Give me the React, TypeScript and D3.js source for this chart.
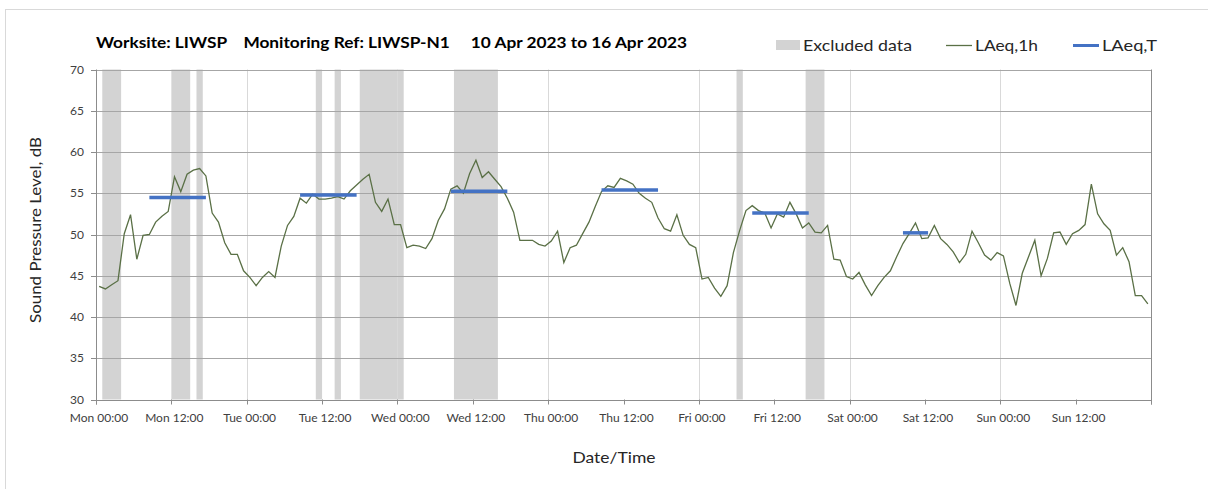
import React from "react";
import * as d3 from "d3";

// Hourly LAeq,1h values (dB), Mon 00:00 .. Sun 23:00
const laeq1h: number[] = [
  43.7, 43.4, 43.9, 44.4, 50.1, 52.4, 47.0, 49.9, 50.0, 51.5, 52.2, 52.8,
  57.0, 55.2, 57.3, 57.8, 58.0, 57.1, 52.6, 51.5, 49.0, 47.6, 47.6, 45.6,
  44.8, 43.8, 44.8, 45.5, 44.8, 48.6, 51.1, 52.2, 54.4, 53.8, 54.9, 54.3,
  54.3, 54.4, 54.6, 54.3, 55.3, 56.0, 56.7, 57.3, 53.9, 52.8, 54.3, 51.2,
  51.2, 48.4, 48.7, 48.6, 48.3, 49.5, 51.7, 53.1, 55.5, 55.9, 55.0, 57.4,
  59.0, 56.9, 57.6, 56.7, 55.8, 54.4, 52.7, 49.3, 49.3, 49.3, 48.8, 48.6,
  49.2, 50.4, 46.6, 48.4, 48.7, 50.1, 51.5, 53.4, 55.2, 55.9, 55.7, 56.8,
  56.5, 56.1, 55.0, 54.4, 53.9, 52.0, 50.7, 50.4, 52.4, 49.9, 48.8, 48.4,
  44.6, 44.8, 43.5, 42.5, 43.8, 47.8, 50.5, 52.9, 53.5, 52.9, 52.6, 50.8,
  52.5, 52.1, 53.9, 52.5, 50.8, 51.4, 50.3, 50.2, 51.1, 47.0, 46.9, 44.9,
  44.6, 45.4, 43.9, 42.6, 43.8, 44.8, 45.6, 47.3, 48.9, 50.1, 51.4, 49.5,
  49.6, 51.1, 49.5, 48.8, 47.9, 46.6, 47.6, 50.4, 49.0, 47.5, 46.9, 47.8,
  47.4, 44.1, 41.4, 45.3, 47.3, 49.3, 45.0, 47.1, 50.2, 50.3, 48.8, 50.1,
  50.5, 51.2, 56.1, 52.5, 51.3, 50.5, 47.5, 48.4, 46.7, 42.6, 42.6, 41.6,
];

// Excluded data periods [start hour, end hour] from Mon 00:00
const excludedStart: number[] = [1, 12, 16, 35, 38, 42, 57, 102, 113];
const excludedEnd: number[] = [4, 15, 17, 36, 39, 49, 64, 103, 116];

// LAeq,T periods: first hour index, last hour index, level
const periodFirst: number[] = [8, 32, 56, 80, 104, 128];
const periodLast: number[] = [17, 41, 65, 89, 113, 132];
const periodLevel: number[] = [54.5, 54.8, 55.25, 55.4, 52.6, 50.2];

const xTickLabels: string[] = [
  "Mon 00:00", "Mon 12:00", "Tue 00:00", "Tue 12:00", "Wed 00:00", "Wed 12:00",
  "Thu 00:00", "Thu 12:00", "Fri 00:00", "Fri 12:00", "Sat 00:00", "Sat 12:00",
  "Sun 00:00", "Sun 12:00",
];
const yTicks: number[] = [30, 35, 40, 45, 50, 55, 60, 65, 70];

const FONT = "Lato, 'Open Sans', sans-serif";

export default function App() {
  const W = 1208;
  const H = 489;
  const left = 96;
  const right = 1151;
  const top = 69.5;
  const bottom = 399.5;

  const x = d3.scaleLinear().domain([0, 168]).range([left, right]);
  const y = d3.scaleLinear().domain([30, 70]).range([bottom, top]);

  const line = d3
    .line<number>()
    .x((_, i) => x(i + 0.5))
    .y((d) => y(d));

  const hourTicks = d3.range(0, 169, 12);
  const dayLines = d3.range(24, 168, 24);

  return (
    <svg
      width={W}
      height={H}
      style={{ position: "absolute", left: 0, top: 0, background: "#fff" }}
      fontFamily={FONT}
    >
      <rect x={5.5} y={9.5} width={1400} height={700} fill="#fff" stroke="#d9d9d9" />

      {/* excluded bands */}
      {excludedStart.map((s, i) => (
        <rect
          key={"ex" + i}
          x={x(s)}
          y={top}
          width={x(excludedEnd[i]) - x(s)}
          height={bottom - top}
          fill="#d3d3d3"
        />
      ))}

      {/* vertical day grid lines */}
      {dayLines.map((h) => (
        <line
          key={"v" + h}
          x1={Math.round(x(h)) + 0.5}
          x2={Math.round(x(h)) + 0.5}
          y1={top}
          y2={bottom}
          stroke="#d9d9d9"
          strokeWidth={1}
        />
      ))}

      {/* horizontal grid lines */}
      {yTicks.slice(1).map((t) => (
        <line
          key={"h" + t}
          x1={left}
          x2={right}
          y1={Math.round(y(t)) + 0.5}
          y2={Math.round(y(t)) + 0.5}
          stroke="#a6a6a6"
          strokeWidth={1}
        />
      ))}

      {/* axes */}
      <line x1={left + 0.5} x2={left + 0.5} y1={top} y2={bottom + 5} stroke="#8c8c8c" />
      <line x1={right + 0.5} x2={right + 0.5} y1={top} y2={bottom + 5} stroke="#8c8c8c" />
      <line x1={left} x2={right + 1} y1={Math.round(bottom) + 0.5} y2={Math.round(bottom) + 0.5} stroke="#8c8c8c" />
      {yTicks.map((t) => (
        <line
          key={"yt" + t}
          x1={left - 5}
          x2={left}
          y1={Math.round(y(t)) + 0.5}
          y2={Math.round(y(t)) + 0.5}
          stroke="#8c8c8c"
        />
      ))}
      {hourTicks.map((h) => (
        <line
          key={"xt" + h}
          x1={Math.round(x(h)) + 0.5}
          x2={Math.round(x(h)) + 0.5}
          y1={bottom}
          y2={bottom + 5}
          stroke="#8c8c8c"
        />
      ))}

      {/* y tick labels */}
      {yTicks.map((t) => (
        <text
          key={"yl" + t}
          x={84}
          y={y(t) + 4}
          textAnchor="end"
          fontSize={12}
          fill="#404040"
        >
          {t}
        </text>
      ))}

      {/* x tick labels */}
      {xTickLabels.map((lab, i) => (
        <text
          key={"xl" + i}
          x={x(i * 12) + 3}
          y={422}
          textAnchor="middle"
          fontSize={12}
          fill="#404040"
        >
          {lab}
        </text>
      ))}

      {/* LAeq,1h line */}
      <path d={line(laeq1h) || ""} fill="none" stroke="#5a7046" strokeWidth={1.3} />

      {/* LAeq,T segments */}
      {periodFirst.map((f, i) => (
        <line
          key={"p" + i}
          x1={x(f + 0.5)}
          x2={x(periodLast[i] + 0.5)}
          y1={y(periodLevel[i])}
          y2={y(periodLevel[i])}
          stroke="#4472c4"
          strokeWidth={3.5}
        />
      ))}

      {/* axis titles */}
      <text
        transform={`translate(41,230) rotate(-90)`}
        textAnchor="middle"
        fontSize={16}
        fill="#262626"
        textLength={186}
        lengthAdjust="spacingAndGlyphs"
      >
        Sound Pressure Level, dB
      </text>
      <text
        x={614}
        y={463}
        textAnchor="middle"
        fontSize={16}
        fill="#262626"
        textLength={83}
        lengthAdjust="spacingAndGlyphs"
      >
        Date/Time
      </text>

      {/* title */}
      <text
        x={96}
        y={48}
        fontSize={16}
        fontWeight="bold"
        fill="#000"
        xmlSpace="preserve"
        textLength={591}
        lengthAdjust="spacingAndGlyphs"
      >
        {"Worksite: LIWSP    Monitoring Ref: LIWSP-N1     10 Apr 2023 to 16 Apr 2023"}
      </text>

      {/* legend */}
      <rect x={776} y={40} width={24} height={10} fill="#d3d3d3" />
      <text x={803} y={51} fontSize={16} fill="#262626" textLength={109} lengthAdjust="spacingAndGlyphs">
        Excluded data
      </text>
      <line x1={946} x2={972} y1={45.5} y2={45.5} stroke="#5a7046" strokeWidth={1.3} />
      <text x={975} y={51} fontSize={16} fill="#262626" textLength={63} lengthAdjust="spacingAndGlyphs">
        LAeq,1h
      </text>
      <line x1={1073} x2={1099} y1={45.5} y2={45.5} stroke="#4472c4" strokeWidth={3} />
      <text x={1102} y={51} fontSize={16} fill="#262626" textLength={55} lengthAdjust="spacingAndGlyphs">
        LAeq,T
      </text>
    </svg>
  );
}
